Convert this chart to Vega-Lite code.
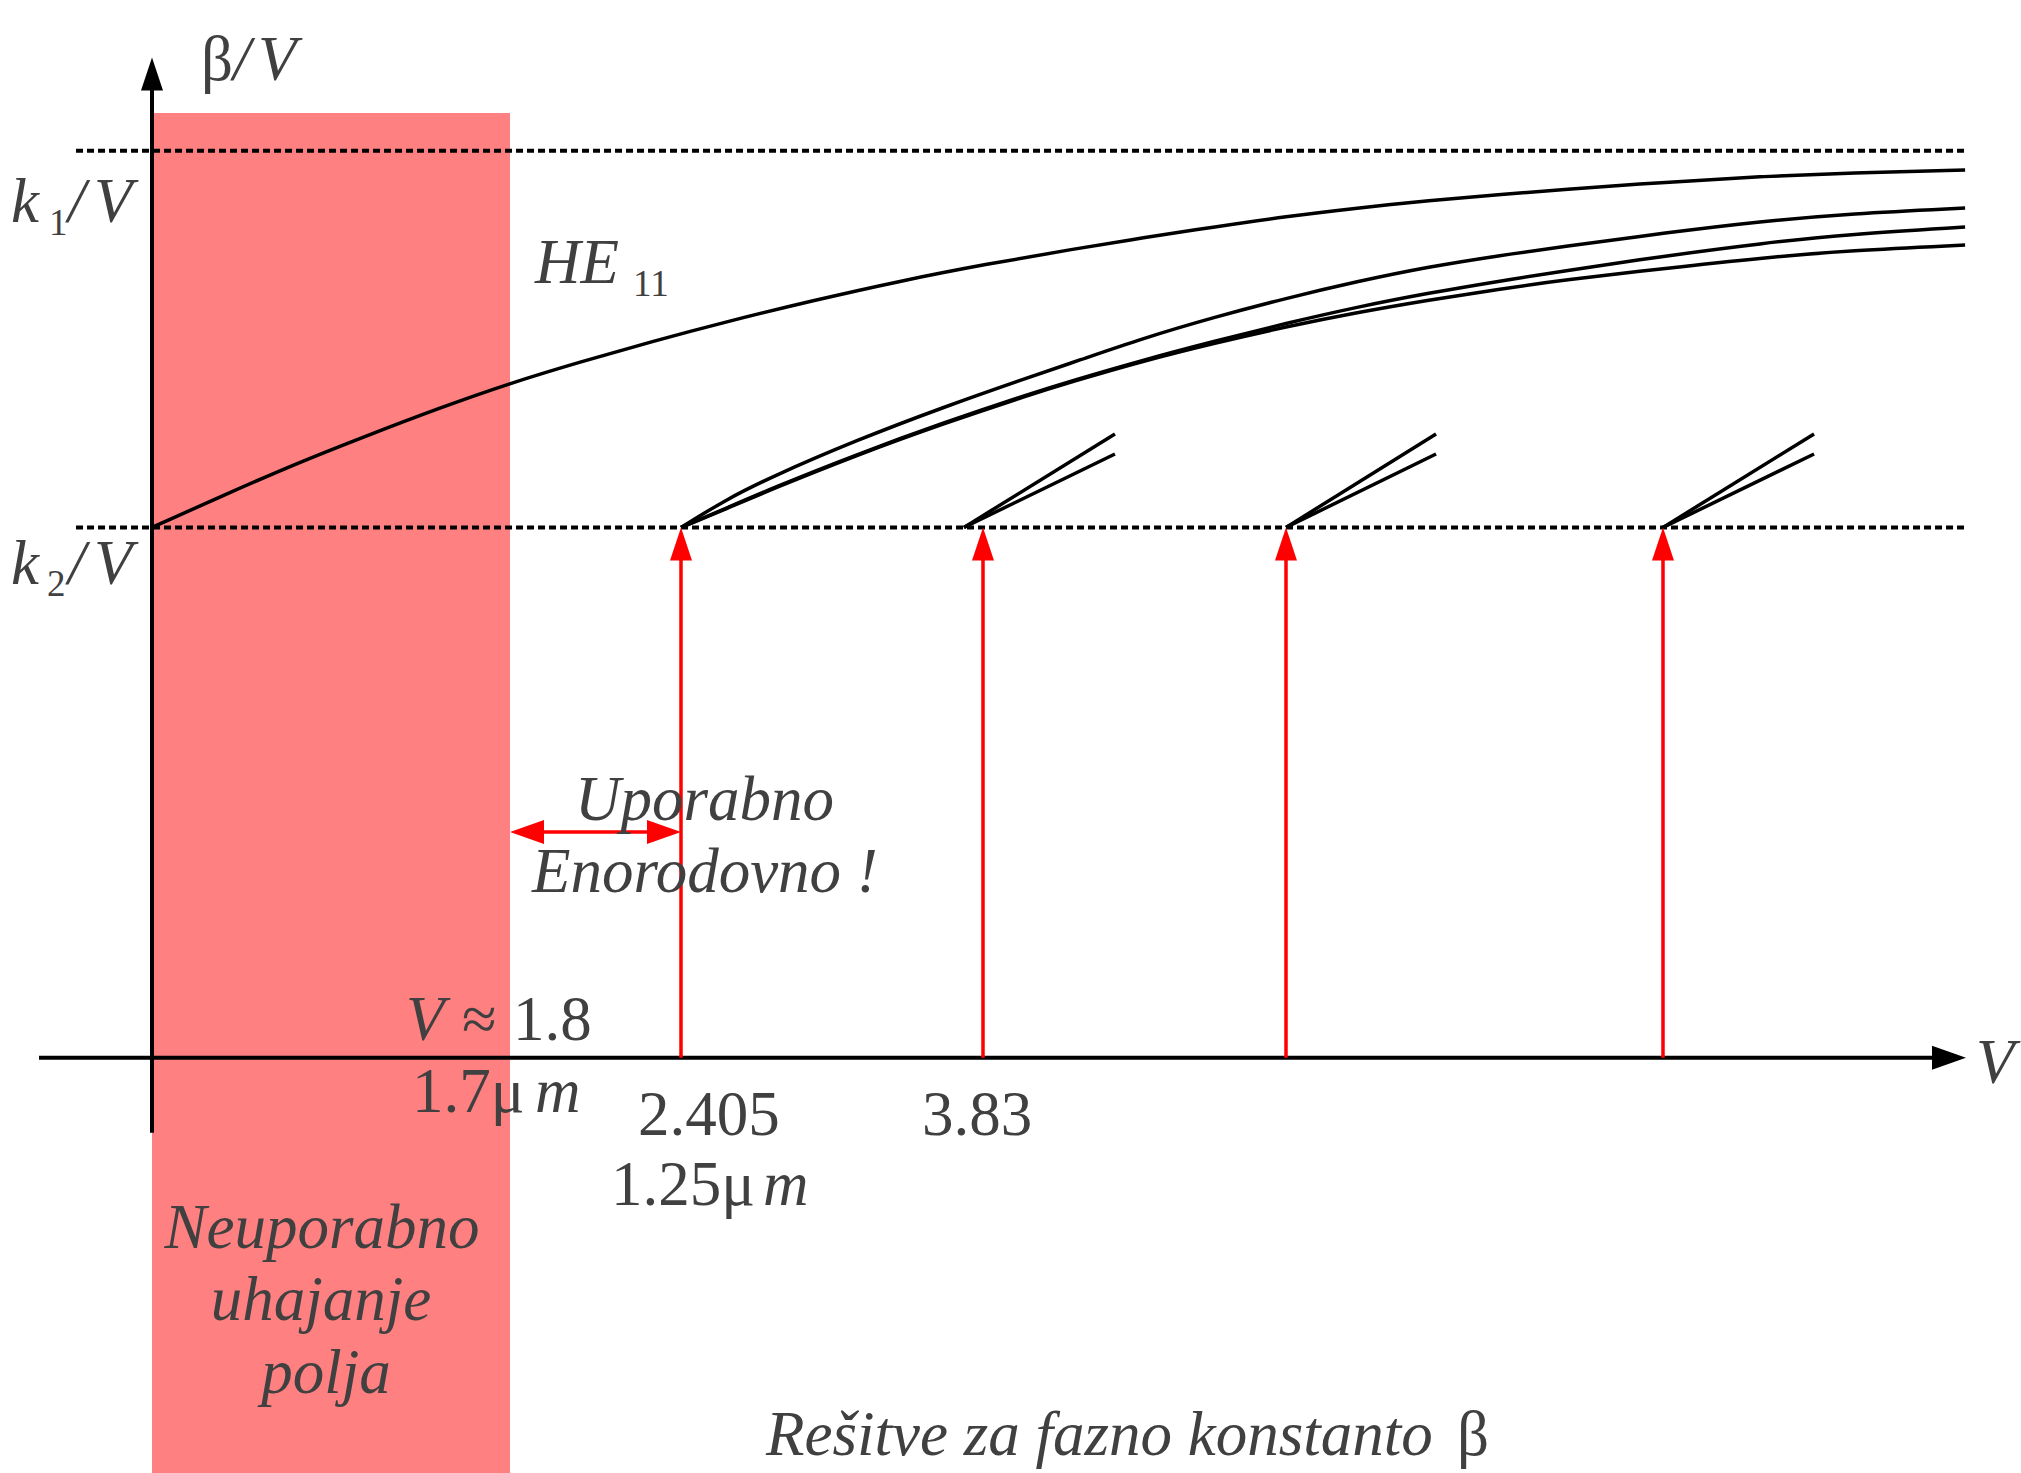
{
  "$schema": "https://vega.github.io/schema/vega-lite/v6.json",
  "width": 2021,
  "height": 1473,
  "autosize": {"type": "none"},
  "padding": 0,
  "background": "white",
  "config": {"view": {"stroke": null}},
  "datasets": {
    "band": [{"v": 0, "v2": 1.8, "b": 1.10, "b2": -2.51}],
    "levels": [
      {"level": "k1/V", "v": -0.382, "v2": 8.2256, "b": 1},
      {"level": "k2/V", "v": -0.382, "v2": 8.2256, "b": 0}
    ],
    "axes": [
      {"axis": "V", "v": -0.568, "v2": 8.11, "b": -1.408, "b2": -1.408},
      {"axis": "beta/V", "v": 0, "v2": 0, "b": -1.607, "b2": 1.17}
    ],
    "curves": [
      {"mode": "HE11", "v": 0, "b": 0},
      {"mode": "HE11", "v": 0.357, "b": 0.0847},
      {"mode": "HE11", "v": 0.719, "b": 0.1684},
      {"mode": "HE11", "v": 1.076, "b": 0.2427},
      {"mode": "HE11", "v": 1.438, "b": 0.3157},
      {"mode": "HE11", "v": 1.795, "b": 0.382},
      {"mode": "HE11", "v": 2.048, "b": 0.4391},
      {"mode": "HE11", "v": 2.302, "b": 0.4935},
      {"mode": "HE11", "v": 2.622, "b": 0.5466},
      {"mode": "HE11", "v": 3.028, "b": 0.6023},
      {"mode": "HE11", "v": 3.438, "b": 0.6541},
      {"mode": "HE11", "v": 3.852, "b": 0.6992},
      {"mode": "HE11", "v": 4.338, "b": 0.7391},
      {"mode": "HE11", "v": 4.722, "b": 0.7688},
      {"mode": "HE11", "v": 5.124, "b": 0.798},
      {"mode": "HE11", "v": 5.52, "b": 0.8253},
      {"mode": "HE11", "v": 5.8025, "b": 0.8479},
      {"mode": "HE11", "v": 6.089, "b": 0.8678},
      {"mode": "HE11", "v": 6.3715, "b": 0.8837},
      {"mode": "HE11", "v": 6.61, "b": 0.8962},
      {"mode": "HE11", "v": 7.04, "b": 0.9169},
      {"mode": "HE11", "v": 7.406, "b": 0.9315},
      {"mode": "HE11", "v": 7.768, "b": 0.9408},
      {"mode": "HE11", "v": 8.222, "b": 0.9488},

      {"mode": "A", "v": 2.405, "b": 0},
      {"mode": "A", "v": 2.622, "b": 0.0754},
      {"mode": "A", "v": 2.825, "b": 0.1325},
      {"mode": "A", "v": 3.235, "b": 0.2321},
      {"mode": "A", "v": 3.646, "b": 0.3197},
      {"mode": "A", "v": 4.042, "b": 0.3913},
      {"mode": "A", "v": 4.371, "b": 0.4444},
      {"mode": "A", "v": 4.722, "b": 0.502},
      {"mode": "A", "v": 5.124, "b": 0.5586},
      {"mode": "A", "v": 5.52, "b": 0.6082},
      {"mode": "A", "v": 5.8025, "b": 0.6528},
      {"mode": "A", "v": 6.089, "b": 0.6921},
      {"mode": "A", "v": 6.3715, "b": 0.7218},
      {"mode": "A", "v": 6.61, "b": 0.7444},
      {"mode": "A", "v": 7.04, "b": 0.7828},
      {"mode": "A", "v": 7.406, "b": 0.812},
      {"mode": "A", "v": 7.768, "b": 0.8333},
      {"mode": "A", "v": 8.222, "b": 0.8479},

      {"mode": "B", "v": 2.405, "b": 0},
      {"mode": "B", "v": 2.622, "b": 0.0516},
      {"mode": "B", "v": 2.825, "b": 0.102},
      {"mode": "B", "v": 3.235, "b": 0.1941},
      {"mode": "B", "v": 3.646, "b": 0.2785},
      {"mode": "B", "v": 4.092, "b": 0.355},
      {"mode": "B", "v": 4.321, "b": 0.3887},
      {"mode": "B", "v": 4.722, "b": 0.4444},
      {"mode": "B", "v": 5.124, "b": 0.4948},
      {"mode": "B", "v": 5.52, "b": 0.5418},
      {"mode": "B", "v": 5.8025, "b": 0.5851},
      {"mode": "B", "v": 6.089, "b": 0.6223},
      {"mode": "B", "v": 6.3715, "b": 0.6541},
      {"mode": "B", "v": 6.61, "b": 0.6793},
      {"mode": "B", "v": 7.04, "b": 0.7218},
      {"mode": "B", "v": 7.406, "b": 0.7537},
      {"mode": "B", "v": 7.768, "b": 0.7789},
      {"mode": "B", "v": 8.222, "b": 0.7974},

      {"mode": "C", "v": 2.405, "b": 0},
      {"mode": "C", "v": 2.622, "b": 0.0503},
      {"mode": "C", "v": 2.825, "b": 0.0993},
      {"mode": "C", "v": 3.235, "b": 0.1922},
      {"mode": "C", "v": 3.646, "b": 0.2759},
      {"mode": "C", "v": 4.092, "b": 0.3523},
      {"mode": "C", "v": 4.321, "b": 0.386},
      {"mode": "C", "v": 4.722, "b": 0.4418},
      {"mode": "C", "v": 5.124, "b": 0.4895},
      {"mode": "C", "v": 5.52, "b": 0.5328},
      {"mode": "C", "v": 5.8025, "b": 0.5705},
      {"mode": "C", "v": 6.089, "b": 0.6037},
      {"mode": "C", "v": 6.3715, "b": 0.6329},
      {"mode": "C", "v": 6.61, "b": 0.6554},
      {"mode": "C", "v": 7.04, "b": 0.6886},
      {"mode": "C", "v": 7.406, "b": 0.7152},
      {"mode": "C", "v": 7.768, "b": 0.7351},
      {"mode": "C", "v": 8.222, "b": 0.7497},

      {"mode": "D1", "v": 3.74, "b": 0},
      {"mode": "D1", "v": 4.566, "b": 0.248},
      {"mode": "D2", "v": 3.74, "b": 0},
      {"mode": "D2", "v": 4.566, "b": 0.195},
      {"mode": "E1", "v": 5.52, "b": 0},
      {"mode": "E1", "v": 6.117, "b": 0.248},
      {"mode": "E2", "v": 5.52, "b": 0},
      {"mode": "E2", "v": 6.117, "b": 0.195},
      {"mode": "F1", "v": 7.02, "b": 0},
      {"mode": "F1", "v": 7.621, "b": 0.248},
      {"mode": "F2", "v": 7.02, "b": 0},
      {"mode": "F2", "v": 7.621, "b": 0.195}
    ],
    "cutoffShafts": [
      {"v": 2.405, "v2": 2.405, "b": -1.408, "b2": -0.08},
      {"v": 3.83, "v2": 3.83, "b": -1.408, "b2": -0.08},
      {"v": 5.52, "v2": 5.52, "b": -1.408, "b2": -0.08},
      {"v": 7.02, "v2": 7.02, "b": -1.408, "b2": -0.08},
      {"v": 1.86, "v2": 2.35, "b": -0.8085, "b2": -0.8085}
    ],
    "cutoffTips": [
      {"v": 2.405, "b": 0},
      {"v": 3.83, "b": 0},
      {"v": 5.52, "b": 0},
      {"v": 7.02, "b": 0}
    ],
    "rangeRight": [{"v": 2.405, "b": -0.8085}],
    "rangeLeft": [{"v": 1.8, "b": -0.8085}],
    "axisUp": [{"v": 0, "b": 1.2474}],
    "axisRight": [{"v": 8.2256, "b": -1.408}],
    "italicLabels": [
      {"t": "/", "v": 0.4073, "b": 1.1876},
      {"t": "V", "v": 0.533, "b": 1.1876},
      {"t": "k", "v": -0.7089, "b": 0.8107},
      {"t": "/", "v": -0.4223, "b": 0.8107},
      {"t": "V", "v": -0.2916, "b": 0.8107},
      {"t": "k", "v": -0.7089, "b": -0.1502},
      {"t": "/", "v": -0.4223, "b": -0.1502},
      {"t": "V", "v": -0.2916, "b": -0.1502},
      {"t": "HE", "v": 1.8885, "b": 0.6488},
      {"t": "Uporabno", "v": 2.03, "b": -0.7766},
      {"t": "Enorodovno !", "v": 1.8778, "b": -0.9677},
      {"t": "V", "v": 1.2771, "b": -1.3606},
      {"t": "m", "v": 1.8885, "b": -1.5517},
      {"t": "m", "v": 2.7919, "b": -1.7986},
      {"t": "Rešitve za fazno konstanto", "v": 2.8061, "b": -2.4622},
      {"t": "V", "v": 8.2654, "b": -1.4747}
    ],
    "italicCentered": [
      {"t": "Neuporabno", "v": 0.8547, "b": -1.9127},
      {"t": "uhajanje", "v": 0.8497, "b": -2.1038},
      {"t": "polja", "v": 0.8749, "b": -2.2976}
    ],
    "regularLabels": [
      {"t": "β", "v": 0.2464, "b": 1.1876},
      {"t": "≈", "v": 1.5587, "b": -1.3606},
      {"t": "1.8", "v": 1.8106, "b": -1.3606},
      {"t": "1.7μ", "v": 1.3073, "b": -1.5517},
      {"t": "2.405", "v": 2.2529, "b": -1.6128},
      {"t": "3.83", "v": 3.5416, "b": -1.6128},
      {"t": "1.25μ", "v": 2.1573, "b": -1.7986},
      {"t": "β", "v": 6.2004, "b": -2.4622}
    ],
    "subscripts": [
      {"t": "1", "v": -0.5179, "b": 0.7762},
      {"t": "2", "v": -0.5279, "b": -0.182},
      {"t": "11", "v": 2.2352, "b": 0.6143}
    ]
  },
  "encoding": {
    "x": {
      "field": "v",
      "type": "quantitative",
      "axis": null,
      "scale": {
        "domain": [-0.7642, 0, 1.8, 2.405, 3.83, 5.52, 7.02, 8.4444],
        "range": [0, 152, 510, 681, 983, 1286, 1663, 2021],
        "nice": false,
        "zero": false
      }
    },
    "y": {
      "field": "b",
      "type": "quantitative",
      "axis": null,
      "scale": {"domain": [-2.51, 1.4], "nice": false, "zero": false}
    }
  },
  "layer": [
    {
      "data": {"name": "band"},
      "mark": {"type": "rect", "fill": "#ff8080", "stroke": null},
      "encoding": {"x2": {"field": "v2"}, "y2": {"field": "b2"}}
    },
    {
      "data": {"name": "levels"},
      "mark": {"type": "rule", "color": "black", "strokeWidth": 4, "strokeDash": [7, 4]},
      "encoding": {"x2": {"field": "v2"}}
    },
    {
      "data": {"name": "curves"},
      "mark": {"type": "line", "color": "black", "strokeWidth": 3.5, "interpolate": "basis"},
      "encoding": {"detail": {"field": "mode"}}
    },
    {
      "data": {"name": "axes"},
      "mark": {"type": "rule", "color": "black", "strokeWidth": 4},
      "encoding": {"x2": {"field": "v2"}, "y2": {"field": "b2"}}
    },
    {
      "data": {"name": "axisUp"},
      "mark": {"type": "point", "shape": "M0,0L0.3333,1L-0.3333,1Z", "size": 4356, "filled": true, "color": "black", "opacity": 1, "strokeWidth": 0},
      "encoding": {}
    },
    {
      "data": {"name": "axisRight"},
      "mark": {"type": "point", "shape": "M0,0L-1,-0.353L-1,0.353Z", "size": 4624, "filled": true, "color": "black", "opacity": 1, "strokeWidth": 0},
      "encoding": {}
    },
    {
      "data": {"name": "cutoffShafts"},
      "mark": {"type": "rule", "color": "#ff0000", "strokeWidth": 3.5},
      "encoding": {"x2": {"field": "v2"}, "y2": {"field": "b2"}}
    },
    {
      "data": {"name": "cutoffTips"},
      "mark": {"type": "point", "shape": "M0,0L0.3333,1L-0.3333,1Z", "size": 4356, "filled": true, "color": "#ff0000", "opacity": 1, "strokeWidth": 0},
      "encoding": {}
    },
    {
      "data": {"name": "rangeRight"},
      "mark": {"type": "point", "shape": "M0,0L-1,-0.353L-1,0.353Z", "size": 4624, "filled": true, "color": "#ff0000", "opacity": 1, "strokeWidth": 0},
      "encoding": {}
    },
    {
      "data": {"name": "rangeLeft"},
      "mark": {"type": "point", "shape": "M0,0L1,-0.353L1,0.353Z", "size": 4624, "filled": true, "color": "#ff0000", "opacity": 1, "strokeWidth": 0},
      "encoding": {}
    },
    {
      "data": {"name": "italicLabels"},
      "mark": {"type": "text", "font": "Liberation Serif", "fontStyle": "italic", "fontSize": 63, "align": "left", "baseline": "alphabetic", "color": "#404040"},
      "encoding": {"text": {"field": "t"}}
    },
    {
      "data": {"name": "italicCentered"},
      "mark": {"type": "text", "font": "Liberation Serif", "fontStyle": "italic", "fontSize": 63, "align": "center", "baseline": "alphabetic", "color": "#404040"},
      "encoding": {"text": {"field": "t"}}
    },
    {
      "data": {"name": "regularLabels"},
      "mark": {"type": "text", "font": "Liberation Serif", "fontSize": 63, "align": "left", "baseline": "alphabetic", "color": "#404040"},
      "encoding": {"text": {"field": "t"}}
    },
    {
      "data": {"name": "subscripts"},
      "mark": {"type": "text", "font": "Liberation Serif", "fontSize": 37, "align": "left", "baseline": "alphabetic", "color": "#404040"},
      "encoding": {"text": {"field": "t"}}
    }
  ]
}
